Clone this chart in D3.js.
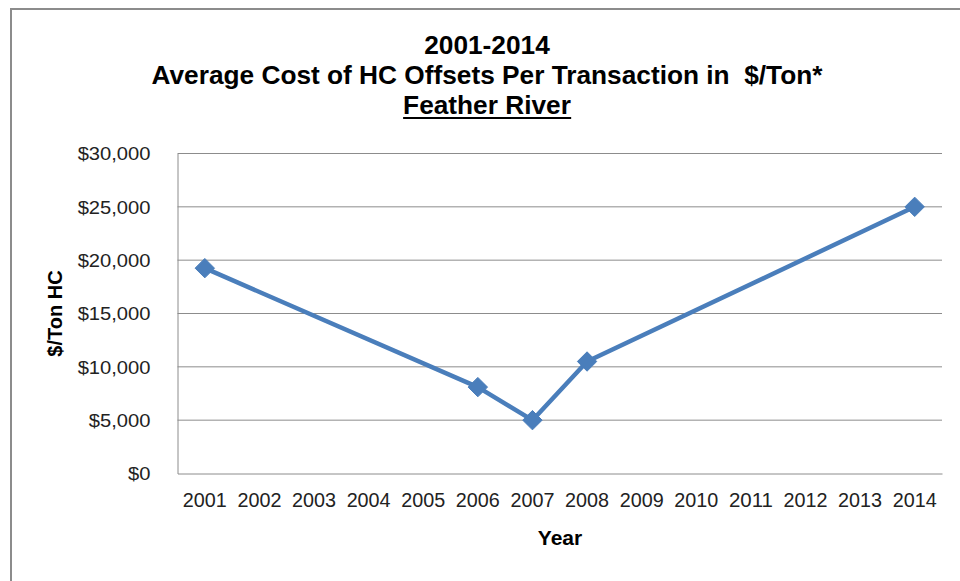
<!DOCTYPE html>
<html>
<head>
<meta charset="utf-8">
<script src="https://cdn.jsdelivr.net/npm/d3@7"></script>
<style>
  body { margin: 0; background: #fff; }
  svg { display: block; font-family: "Liberation Sans", Arial, sans-serif; }
</style>
</head>
<body>
<div id="vis"></div>
<script>
// data
const years = ["2001", "2002", "2003", "2004", "2005", "2006", "2007",
               "2008", "2009", "2010", "2011", "2012", "2013", "2014"];
const pointYears = ["2001", "2006", "2007", "2008", "2014"];
const pointValues = [19250, 8100, 5000, 10500, 25000];
const yTicks = [0, 5000, 10000, 15000, 20000, 25000, 30000];
const titleLines = ["2001-2014", "Average Cost of HC Offsets Per Transaction in  $/Ton*", "Feather River"];

const width = 960;
const height = 581;
const margin = { top: 153.5, right: 18, bottom: 107.5, left: 177.5 };

const svg = d3.select('#vis')
    .append('svg')
    .attr('width', width)
    .attr('height', height);

// the reference text is a bit wider than the font, stretch it
function stretch(sel, k) {
    sel.each(function() {
        const w = this.getComputedTextLength();
        d3.select(this).attr('textLength', w * k).attr('lengthAdjust', 'spacingAndGlyphs');
    });
}

// chart frame (only left and top edges are visible)
svg.append('path')
    .attr('d', `M11,${height} V9 H${width}`)
    .attr('fill', 'none')
    .attr('stroke', '#8c8c8c')
    .attr('stroke-width', 2);

const x = d3.scaleBand()
    .domain(years)
    .range([margin.left, width - margin.right]);

const y = d3.scaleLinear()
    .domain([0, 30000])
    .range([height - margin.bottom, margin.top]);

// gridlines
svg.append('g')
    .selectAll('line')
    .data(yTicks.slice(1))
    .join('line')
    .attr('x1', margin.left)
    .attr('x2', width - margin.right)
    .attr('y1', d => y(d))
    .attr('y2', d => y(d))
    .attr('stroke', '#8c8c8c')
    .attr('stroke-width', 1);

// y axis
const yAxis = svg.append('g')
    .attr('transform', `translate(${margin.left},0)`)
    .call(d3.axisLeft(y).tickValues(yTicks).tickSize(0).tickPadding(27)
        .tickFormat(d => '$' + d3.format(',')(d)));
yAxis.select('.domain').attr('stroke', '#8c8c8c');
yAxis.selectAll('text').attr('font-size', 18).attr('fill', '#222').attr('dy', '0.35em')
    .call(stretch, 1.12);

// x axis
const xAxis = svg.append('g')
    .attr('transform', `translate(0,${height - margin.bottom})`)
    .call(d3.axisBottom(x).tickSize(0).tickPadding(19));
xAxis.select('.domain').attr('stroke', '#8c8c8c');
xAxis.selectAll('text').attr('font-size', 20).attr('fill', '#222')
    .attr('textLength', 44).attr('lengthAdjust', 'spacingAndGlyphs');

// line + markers
const points = pointYears.map((yr, i) => ({ year: yr, value: pointValues[i] }));
const cx = d => x(d.year) + x.bandwidth() / 2;

svg.append('path')
    .datum(points)
    .attr('fill', 'none')
    .attr('stroke', '#4a7ebb')
    .attr('stroke-width', 4.5)
    .attr('stroke-linejoin', 'round')
    .attr('d', d3.line().x(cx).y(d => y(d.value)));

svg.append('g')
    .selectAll('path')
    .data(points)
    .join('path')
    .attr('transform', d => `translate(${cx(d)},${y(d.value)})`)
    .attr('d', d3.symbol(d3.symbolDiamond2, 240))
    .attr('fill', '#4a7ebb')
    .attr('stroke', '#4a7ebb')
    .attr('stroke-width', 1);

// titles
const title = svg.append('g')
    .attr('font-weight', 'bold')
    .attr('font-size', 25)
    .attr('text-anchor', 'middle')
    .attr('fill', '#000');

title.selectAll('text')
    .data(titleLines)
    .join('text')
    .attr('x', 487)
    .attr('y', (d, i) => 54 + i * 30)
    .style('white-space', 'pre')
    .text(d => d)
    .call(stretch, 1.05);

// underline under last title line
const last = title.selectAll('text').filter((d, i) => i === 2).node().getBBox();
title.append('line')
    .attr('x1', last.x).attr('x2', last.x + last.width)
    .attr('y1', 54 + 2 * 30 + 4).attr('y2', 54 + 2 * 30 + 4)
    .attr('stroke', '#000').attr('stroke-width', 2);

svg.append('text')
    .attr('transform', `translate(62,${y(15000)}) rotate(-90)`)
    .attr('text-anchor', 'middle')
    .attr('font-weight', 'bold')
    .attr('font-size', 20)
    .text('$/Ton HC');

svg.append('text')
    .attr('x', 560)
    .attr('y', 545)
    .attr('text-anchor', 'middle')
    .attr('font-weight', 'bold')
    .attr('font-size', 21)
    .text('Year');
</script>
</body>
</html>
